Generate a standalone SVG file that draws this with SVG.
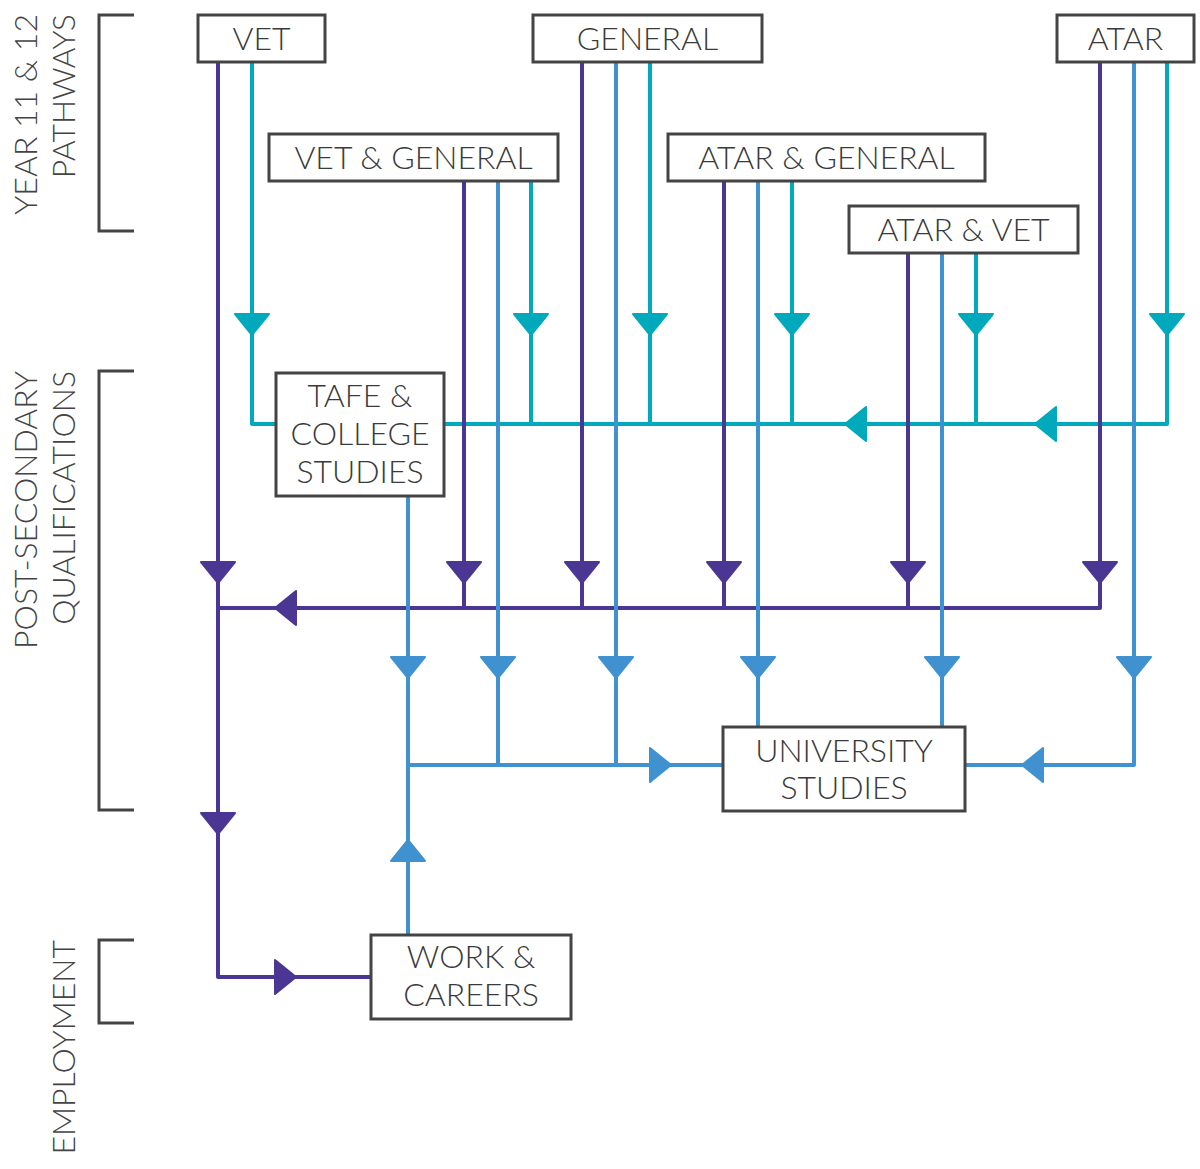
<svg xmlns="http://www.w3.org/2000/svg" xmlns:xlink="http://www.w3.org/1999/xlink" width="1200" height="1169" viewBox="0 0 1200 1169">
<style>
.box{fill:#fff;stroke:#444;stroke-width:3}
.t{font-family:Lato,"Noto Sans",sans-serif;font-size:32px;font-weight:300;fill:#3a3a3a;text-anchor:middle}
.lab{font-family:Lato,"Noto Sans",sans-serif;font-size:32px;font-weight:300;fill:#444;text-anchor:end}
.br{fill:none;stroke:#444;stroke-width:3}
.ln{fill:none;stroke-width:4;stroke-linejoin:round}
.tl{stroke:#00a9bb}.pl{stroke:#4b3694}.bl{stroke:#3f92cf}
.ta{fill:#00a9bb;stroke:#00a9bb}.pa{fill:#4b3694;stroke:#4b3694}.ba{fill:#3f92cf;stroke:#3f92cf}
</style>
<defs>
<path id="ah" d="M0,0 L-17,-21 L17,-21 Z" stroke-width="2" stroke-linejoin="round"/>
</defs>
<rect width="1200" height="1169" fill="#fff"/>
<g id="labels">
<path class="br" d="M134,15 H99 V231 H134"/>
<path class="br" d="M134,371 H99 V810 H134"/>
<path class="br" d="M134,940 H99 V1023 H134"/>
<text class="lab" transform="translate(37,14) rotate(-90)">YEAR 11 &amp; 12</text>
<text class="lab" transform="translate(75,14) rotate(-90)">PATHWAYS</text>
<text class="lab" transform="translate(37,371) rotate(-90)">POST-SECONDARY</text>
<text class="lab" transform="translate(75,371) rotate(-90)">QUALIFICATIONS</text>
<text class="lab" transform="translate(75,940) rotate(-90)">EMPLOYMENT</text>
</g>
<g id="connectors">
<g id="teal">
<path class="ln tl" d="M252,62 V424 H276"/>
<path class="ln tl" d="M444,424 H1167 V62"/>
<path class="ln tl" d="M531,181 V424"/>
<path class="ln tl" d="M650,62 V424"/>
<path class="ln tl" d="M792,181 V424"/>
<path class="ln tl" d="M976,253 V424"/>
<use xlink:href="#ah" class="ta" x="252" y="335"/>
<use xlink:href="#ah" class="ta" x="531" y="335"/>
<use xlink:href="#ah" class="ta" x="650" y="335"/>
<use xlink:href="#ah" class="ta" x="792" y="335"/>
<use xlink:href="#ah" class="ta" x="976" y="335"/>
<use xlink:href="#ah" class="ta" x="1167" y="335"/>
<use xlink:href="#ah" class="ta" transform="translate(845,424) rotate(90)"/>
<use xlink:href="#ah" class="ta" transform="translate(1035,424) rotate(90)"/>
</g>
<g id="purple">
<path class="ln pl" d="M218,62 V977 H371"/>
<path class="ln pl" d="M218,608 H1100 V62"/>
<path class="ln pl" d="M464,181 V608"/>
<path class="ln pl" d="M582,62 V608"/>
<path class="ln pl" d="M724,181 V608"/>
<path class="ln pl" d="M908,253 V608"/>
<use xlink:href="#ah" class="pa" x="218" y="583"/>
<use xlink:href="#ah" class="pa" x="464" y="583"/>
<use xlink:href="#ah" class="pa" x="582" y="583"/>
<use xlink:href="#ah" class="pa" x="724" y="583"/>
<use xlink:href="#ah" class="pa" x="908" y="583"/>
<use xlink:href="#ah" class="pa" x="1100" y="583"/>
<use xlink:href="#ah" class="pa" x="218" y="834"/>
<use xlink:href="#ah" class="pa" transform="translate(275,608) rotate(90)"/>
<use xlink:href="#ah" class="pa" transform="translate(296,977) rotate(-90)"/>
</g>
<g id="blue">
<path class="ln bl" d="M408,496 V935"/>
<path class="ln bl" d="M408,765 H723"/>
<path class="ln bl" d="M498,181 V765"/>
<path class="ln bl" d="M616,62 V765"/>
<path class="ln bl" d="M758,181 V727"/>
<path class="ln bl" d="M942,253 V727"/>
<path class="ln bl" d="M1134,62 V765 H965"/>
<use xlink:href="#ah" class="ba" x="408" y="678"/>
<use xlink:href="#ah" class="ba" x="498" y="678"/>
<use xlink:href="#ah" class="ba" x="616" y="678"/>
<use xlink:href="#ah" class="ba" x="758" y="678"/>
<use xlink:href="#ah" class="ba" x="942" y="678"/>
<use xlink:href="#ah" class="ba" x="1134" y="678"/>
<use xlink:href="#ah" class="ba" transform="translate(671,765) rotate(-90)"/>
<use xlink:href="#ah" class="ba" transform="translate(1022,765) rotate(90)"/>
<use xlink:href="#ah" class="ba" transform="translate(408,840) rotate(180)"/>
</g>
</g>
<g id="vet"><rect class="box" x="198" y="15" width="127" height="47"/><text class="t" x="261.5" y="50">VET</text></g>
<g id="general"><rect class="box" x="533" y="15" width="229" height="47"/><text class="t" x="647.5" y="50">GENERAL</text></g>
<g id="atar"><rect class="box" x="1057" y="15" width="137" height="47"/><text class="t" x="1125.5" y="50">ATAR</text></g>
<g id="vet-general"><rect class="box" x="269" y="134" width="289" height="47"/><text class="t" x="413.5" y="169">VET &amp; GENERAL</text></g>
<g id="atar-general"><rect class="box" x="668" y="134" width="317" height="47"/><text class="t" x="826.5" y="169">ATAR &amp; GENERAL</text></g>
<g id="atar-vet"><rect class="box" x="849" y="206" width="229" height="47"/><text class="t" x="963.5" y="241">ATAR &amp; VET</text></g>
<g id="tafe"><rect class="box" x="276" y="373" width="168" height="123"/><text class="t" x="360" y="407">TAFE &amp;</text><text class="t" x="360" y="445">COLLEGE</text><text class="t" x="360" y="483">STUDIES</text></g>
<g id="university"><rect class="box" x="723" y="727" width="242" height="84"/><text class="t" x="844" y="762">UNIVERSITY</text><text class="t" x="844" y="799">STUDIES</text></g>
<g id="work"><rect class="box" x="371" y="935" width="200" height="84"/><text class="t" x="471" y="968">WORK &amp;</text><text class="t" x="471" y="1006">CAREERS</text></g>
</svg>
